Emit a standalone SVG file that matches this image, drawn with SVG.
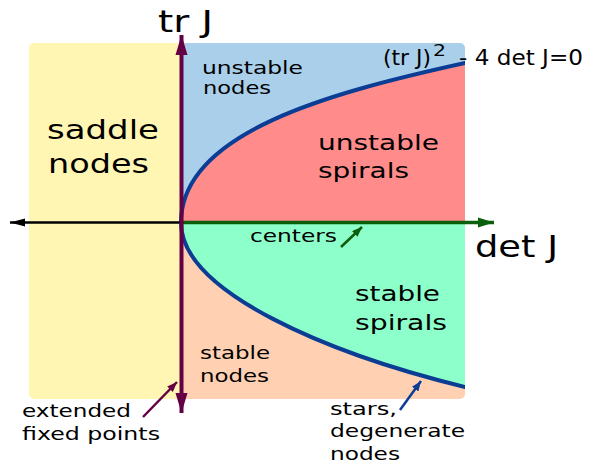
<svg xmlns="http://www.w3.org/2000/svg" width="589" height="466" viewBox="0 0 589 466">
<style>
text{font-family:"DejaVu Sans","Verdana",sans-serif;fill:#000}
.big{font-size:30px}
.lbl26{font-size:26px}
.lbl22{font-size:22px}
.lbl18{font-size:18.5px}
.curve{fill:none;stroke:#0b3d94;stroke-width:4;stroke-linejoin:round;stroke-linecap:butt}
</style>
<defs>
<clipPath id="plotclip"><rect x="29" y="43" width="436" height="356" rx="5"/></clipPath>
<marker id="ahPurple" markerUnits="userSpaceOnUse" markerWidth="20" markerHeight="14" refX="20" refY="7" orient="auto"><path d="M0,1 L20,7 L0,13 Z" fill="#650045"/></marker>
<marker id="ahBlack" markerUnits="userSpaceOnUse" markerWidth="15" markerHeight="10" refX="15" refY="5" orient="auto"><path d="M0,1 L15,5 L0,9 Z" fill="#000"/></marker>
<marker id="ahGreen" markerUnits="userSpaceOnUse" markerWidth="16" markerHeight="12" refX="16" refY="6" orient="auto"><path d="M0,1 L16,6 L0,11 Z" fill="#0b5e0b"/></marker>
<marker id="ahSmallPurple" markerUnits="userSpaceOnUse" markerWidth="10" markerHeight="8" refX="10" refY="4" orient="auto"><path d="M0,0 L10,4 L0,8 Z" fill="#650045"/></marker>
<marker id="ahSmallGreen" markerUnits="userSpaceOnUse" markerWidth="10" markerHeight="8" refX="10" refY="4" orient="auto"><path d="M0,0 L10,4 L0,8 Z" fill="#0b5e0b"/></marker>
<marker id="ahSmallBlue" markerUnits="userSpaceOnUse" markerWidth="10" markerHeight="8" refX="10" refY="4" orient="auto"><path d="M0,0 L10,4 L0,8 Z" fill="#0b3d94"/></marker>
</defs>

<g id="regions" clip-path="url(#plotclip)">
  <rect id="saddle-region" x="29" y="43" width="152" height="356" fill="#fff6b3"/>
  <rect id="unstable-nodes-region" x="181" y="43" width="284" height="179.5" fill="#a9cfeb"/>
  <rect id="stable-nodes-region" x="181" y="222.5" width="284" height="176.5" fill="#ffd0b2"/>
  <path id="unstable-spirals-region" fill="#ff8b8b" d="M181,222.5 C181,132.5 330,92.7 465,63 L465,222.5 Z"/>
  <path id="stable-spirals-region" fill="#8dffca" d="M181,222.5 C181,292.5 330,354 465,387 L465,222.5 Z"/>
</g>

<g id="boundary" clip-path="url(#plotclip)">
  <path class="curve" d="M466,62.8 L465,63 C330,92.7 181,132.5 181,222.5 C181,292.5 330,354 465,387 L466,387.3"/>
</g>

<g id="connectors">
  <line id="axis-neg-det" x1="181" y1="222.5" x2="10" y2="222.5" stroke="#000" stroke-width="2.5" marker-end="url(#ahBlack)"/>
  <line id="axis-det-centers" x1="181" y1="222.5" x2="494" y2="222.5" stroke="#0b5e0b" stroke-width="3.5" marker-end="url(#ahGreen)"/>
  <line id="axis-tr-up" x1="181.5" y1="223" x2="181.5" y2="35" stroke="#650045" stroke-width="4" marker-end="url(#ahPurple)"/>
  <line id="axis-tr-down" x1="181.5" y1="222" x2="181.5" y2="413" stroke="#650045" stroke-width="4" marker-end="url(#ahPurple)"/>
  <line id="arrow-fixed-points" x1="143" y1="417" x2="177" y2="382" stroke="#650045" stroke-width="2.5" marker-end="url(#ahSmallPurple)"/>
  <line id="arrow-centers" x1="341" y1="247" x2="362" y2="227" stroke="#0b5e0b" stroke-width="2.5" marker-end="url(#ahSmallGreen)"/>
  <line id="arrow-stars" x1="400" y1="410" x2="421" y2="381" stroke="#0b3d94" stroke-width="2.5" marker-end="url(#ahSmallBlue)"/>
</g>

<g id="label-trJ"><text class="big" x="158" y="32" textLength="55" lengthAdjust="spacingAndGlyphs">tr J</text></g>
<g id="label-detJ"><text class="big" x="475" y="257" font-size="29" textLength="83" lengthAdjust="spacingAndGlyphs">det J</text></g>

<g id="node-saddle">
  <text class="lbl26" x="47" y="139" textLength="112" lengthAdjust="spacingAndGlyphs">saddle</text>
  <text class="lbl26" x="48" y="173" textLength="101" lengthAdjust="spacingAndGlyphs">nodes</text>
</g>
<g id="node-unstable-nodes">
  <text class="lbl18" x="202" y="74" textLength="101" lengthAdjust="spacingAndGlyphs">unstable</text>
  <text class="lbl18" x="203" y="93.5" textLength="68" lengthAdjust="spacingAndGlyphs">nodes</text>
</g>
<g id="node-unstable-spirals">
  <text class="lbl22" x="318" y="150" textLength="121" lengthAdjust="spacingAndGlyphs">unstable</text>
  <text class="lbl22" x="318" y="178" textLength="91" lengthAdjust="spacingAndGlyphs">spirals</text>
</g>
<g id="label-discriminant">
  <text x="383" y="65" font-size="22" textLength="48" lengthAdjust="spacingAndGlyphs">(tr J)</text>
  <text x="433" y="56" font-size="15" textLength="13" lengthAdjust="spacingAndGlyphs">2</text>
  <text x="459" y="65" font-size="22" textLength="124" lengthAdjust="spacingAndGlyphs">- 4 det J=0</text>
</g>
<g id="node-centers">
  <text class="lbl18" x="250" y="241.5" textLength="87" lengthAdjust="spacingAndGlyphs">centers</text>
</g>
<g id="node-stable-spirals">
  <text class="lbl22" x="355" y="301" textLength="85" lengthAdjust="spacingAndGlyphs">stable</text>
  <text class="lbl22" x="355" y="330" textLength="92" lengthAdjust="spacingAndGlyphs">spirals</text>
</g>
<g id="node-stable-nodes">
  <text class="lbl18" x="200" y="359" font-size="18" textLength="70" lengthAdjust="spacingAndGlyphs">stable</text>
  <text class="lbl18" x="200" y="382" font-size="18" textLength="69" lengthAdjust="spacingAndGlyphs">nodes</text>
</g>
<g id="node-extended-fixed-points">
  <text x="22" y="417" font-size="18" textLength="109" lengthAdjust="spacingAndGlyphs">extended</text>
  <text x="22" y="440" font-size="18" textLength="138" lengthAdjust="spacingAndGlyphs">fixed points</text>
</g>
<g id="node-stars">
  <text x="330" y="415" font-size="18" textLength="67" lengthAdjust="spacingAndGlyphs">stars,</text>
  <text x="330" y="437" font-size="18" textLength="135" lengthAdjust="spacingAndGlyphs">degenerate</text>
  <text x="330" y="459.5" font-size="18" textLength="70" lengthAdjust="spacingAndGlyphs">nodes</text>
</g>
</svg>
